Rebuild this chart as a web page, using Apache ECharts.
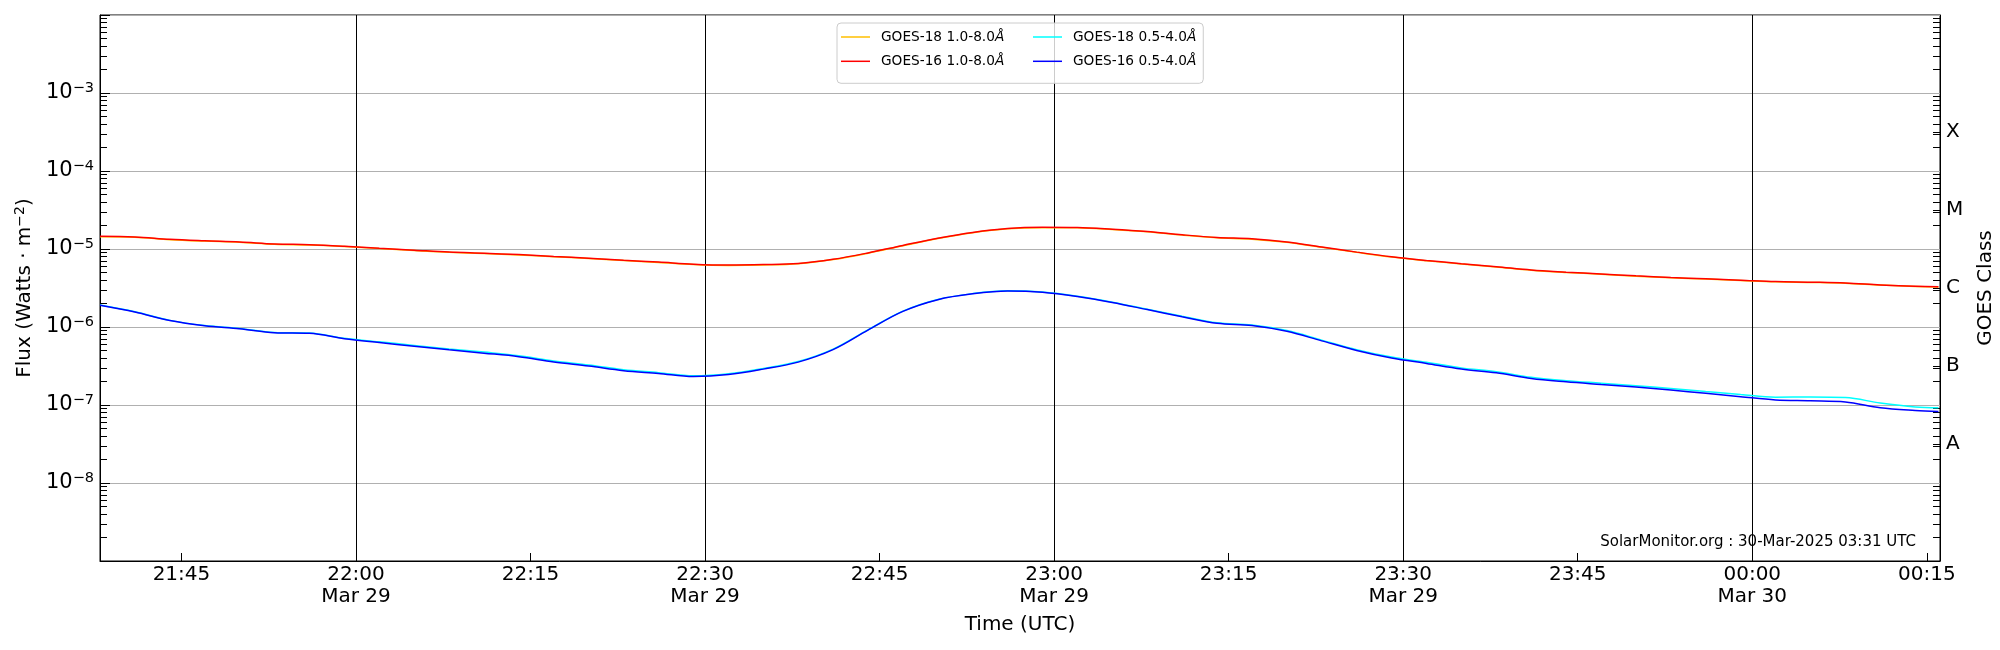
<!DOCTYPE html>
<html><head><meta charset="utf-8">
<script src="https://cdn.jsdelivr.net/npm/echarts@6/dist/echarts.min.js"></script>
<style>html,body{margin:0;padding:0;background:#fff}#c{width:2000px;height:650px}</style>
</head><body><div id="c"></div>
<script>
// ---- data (times in UTC, flux values as log10 W/m^2) ----
const times = ['21:38','21:41','21:44','21:47','21:50','21:53','21:56','21:59',
 '22:02','22:05','22:08','22:11','22:14','22:17','22:20','22:23','22:26','22:29',
 '22:32','22:35','22:38','22:41','22:44','22:47','22:50','22:53','22:56','22:59',
 '23:02','23:05','23:08','23:11','23:14','23:17','23:20','23:23','23:26','23:29',
 '23:32','23:35','23:38','23:41','23:44','23:47','23:50','23:53','23:56','23:59',
 '00:02','00:05','00:08','00:11','00:14','00:16'];
const goes18Long = [-4.842,-4.848,-4.880,-4.899,-4.913,-4.939,-4.949,-4.968,-4.994,-5.019,
 -5.043,-5.059,-5.076,-5.098,-5.122,-5.148,-5.172,-5.199,-5.210,-5.205,-5.189,-5.136,-5.054,
 -4.958,-4.866,-4.791,-4.741,-4.726,-4.729,-4.751,-4.780,-4.822,-4.856,-4.874,-4.914,-4.979,
 -5.043,-5.104,-5.150,-5.192,-5.231,-5.273,-5.301,-5.323,-5.348,-5.369,-5.386,-5.404,-5.421,
 -5.428,-5.438,-5.463,-5.481,-5.486];
const goes18Short = [-5.719,-5.805,-5.915,-5.982,-6.020,-6.070,-6.078,-6.145,-6.190,-6.236,
 -6.281,-6.322,-6.368,-6.436,-6.488,-6.548,-6.585,-6.626,-6.600,-6.532,-6.443,-6.283,-6.036,
 -5.797,-5.647,-5.572,-5.536,-5.552,-5.606,-5.682,-5.772,-5.862,-5.947,-5.975,-6.046,-6.168,
 -6.290,-6.386,-6.453,-6.524,-6.573,-6.645,-6.688,-6.720,-6.752,-6.787,-6.827,-6.866,-6.900,
 -6.898,-6.905,-6.975,-7.025,-7.034];
const goes16Long = [-4.838,-4.845,-4.876,-4.895,-4.910,-4.935,-4.945,-4.965,-4.990,-5.015,
 -5.040,-5.055,-5.072,-5.095,-5.118,-5.145,-5.168,-5.195,-5.206,-5.200,-5.185,-5.132,-5.050,
 -4.954,-4.862,-4.787,-4.737,-4.722,-4.725,-4.747,-4.777,-4.818,-4.852,-4.870,-4.910,-4.975,
 -5.040,-5.100,-5.147,-5.188,-5.227,-5.270,-5.297,-5.320,-5.344,-5.365,-5.383,-5.400,-5.418,
 -5.425,-5.435,-5.460,-5.478,-5.483];
const goes16Short = [-5.722,-5.808,-5.918,-5.985,-6.023,-6.073,-6.081,-6.150,-6.200,-6.247,
 -6.293,-6.335,-6.380,-6.448,-6.500,-6.560,-6.595,-6.635,-6.610,-6.540,-6.450,-6.290,-6.040,
 -5.800,-5.650,-5.575,-5.539,-5.555,-5.610,-5.686,-5.777,-5.868,-5.953,-5.980,-6.055,-6.178,
 -6.300,-6.397,-6.467,-6.538,-6.588,-6.660,-6.703,-6.737,-6.770,-6.808,-6.850,-6.893,-6.935,
 -6.945,-6.960,-7.035,-7.070,-7.083];
const seriesNames = ['GOES-18 1.0-8.0Å','GOES-18 0.5-4.0Å','GOES-16 1.0-8.0Å','GOES-16 0.5-4.0Å'];
const xTickLabels = ['21:45','22:00','22:15','22:30','22:45','23:00','23:15','23:30','23:45','00:00','00:15'];
const xLineLabels = ['22:00','22:30','23:00','23:30','00:00'];
const yTickExponents = [-8,-7,-6,-5,-4,-3];
const classLabels = ['A','B','C','M','X'];
const classExponents = [-7.5,-6.5,-5.5,-4.5,-3.5];
const footnote = 'SolarMonitor.org : 30-Mar-2025 03:31 UTC';

// ---- helpers ----
const FONT = 'DejaVu Sans';
const MONTHS = ['Jan','Feb','Mar','Apr','May','Jun','Jul','Aug','Sep','Oct','Nov','Dec'];
function toTs(hhmm){ const p = hhmm.split(':').map(Number); const day = p[0] < 12 ? 30 : 29; return Date.UTC(2025,2,day,p[0],p[1]); }
const pad = n => (n<10?'0':'')+n;
const xMin = Date.UTC(2025,2,29,21,38,0);
const xMax = Date.UTC(2025,2,30,0,16,8);
const decadeVals = []; for (let e=-9;e<=-2;e++) decadeVals.push(Math.pow(10,e));
const minorVals = []; for (let e=-9;e<=-3;e++) for (let k=2;k<=9;k++) minorVals.push(k*Math.pow(10,e));
const colors = ['#ffbf00','#00ffff','#ff0000','#0000ff'];
const dataSets = [goes18Long, goes18Short, goes16Long, goes16Short];

const series = seriesNames.map((name,i)=>({
  name, type:'line', showSymbol:false, symbol:'none', z: 2+i,
  smooth:0.35,
  data: times.map((t,j)=>[toTs(t), Math.pow(10, dataSets[i][j])]),
  lineStyle:{color:colors[i], width:1.5}, itemStyle:{color:colors[i]},
  emphasis:{disabled:true}, animation:false
}));
series[0].markLine = {
  silent:true, symbol:['none','none'], z:1, animation:false,
  label:{show:false}, lineStyle:{color:'#000', width:1, type:'solid'},
  emphasis:{disabled:true},
  data: xLineLabels.map(s=>({xAxis: toTs(s)}))
};

const legendText = {
  fontFamily: FONT, fontSize: 13.7, color:'#000', lineHeight:14,
  rich: {
    n:{fontFamily:FONT, fontSize:13.7, color:'#000', lineHeight:14, padding:[0,0,0,6]},
    i:{fontFamily:FONT, fontSize:13.7, color:'#000', lineHeight:14, fontStyle:'italic'}
  }
};
const legendFmt = name => '{n|' + name.slice(0,-1) + '}{i|Å}';
const supRich = {
  b:{fontFamily:FONT, fontSize:21, color:'#000', lineHeight:24},
  s:{fontFamily:FONT, fontSize:14.5, color:'#000', lineHeight:15, verticalAlign:'top'}
};
const legendCommon = {
  orient:'vertical', icon:'rect', itemWidth:29, itemHeight:1.5, itemGap:10.3,
  textStyle:legendText, formatter:legendFmt, selectedMode:false
};

const chart = echarts.init(document.getElementById('c'), null, {renderer:'canvas'});
chart.setOption({
  animation:false,
  backgroundColor:'#fff',
  grid:{left:100, right:60, top:15, bottom:89, show:true, borderColor:'#000', borderWidth:1, outerBoundsMode:'none'},
  legend:[Object.assign({}, legendCommon, {
    data:[seriesNames[0], seriesNames[2]], left:837, top:23,
    padding:[7,199,15,4],
    backgroundColor:'rgba(255,255,255,0.8)', borderColor:'#cccccc', borderWidth:1, borderRadius:4
  }), Object.assign({}, legendCommon, {
    data:[seriesNames[1], seriesNames[3]], left:1033, top:30, padding:0, z:6
  })],
  xAxis:{
    type:'value', min:xMin, max:xMax, scale:true,
    axisLine:{show:true, lineStyle:{color:'#000', width:1}},
    axisTick:{show:true, inside:true, length:8, customValues:xTickLabels.map(toTs), lineStyle:{color:'#000', width:1}},
    axisLabel:{
      customValues:xTickLabels.map(toTs), margin:3, fontFamily:FONT, fontSize:20, lineHeight:22, color:'#000', hideOverlap:false,
      formatter:v=>{ const d=new Date(v); let s=pad(d.getUTCHours())+':'+pad(d.getUTCMinutes());
        if (d.getUTCMinutes()%30===0) s += '\n' + MONTHS[d.getUTCMonth()] + ' ' + d.getUTCDate(); return s; }
    },
    splitLine:{show:false},
    name:'Time (UTC)', nameLocation:'middle', nameGap:51.5,
    nameTextStyle:{fontFamily:FONT, fontSize:20, color:'#000', lineHeight:24}
  },
  yAxis:[{
    type:'log', logBase:10, min:1e-9, max:1e-2, interval:1, position:'left',
    axisLine:{show:true, lineStyle:{color:'#000', width:1}},
    axisTick:{show:true, inside:true, length:10, customValues:decadeVals, lineStyle:{color:'#000', width:1}},
    axisLabel:{
      customValues:yTickExponents.map(e=>Math.pow(10,e)), margin:6,
      formatter:v=>'{b|10}{s|−' + (-Math.round(Math.log10(v))) + '}', rich:supRich
    },
    splitLine:{show:true, lineStyle:{color:'#b0b0b0', width:1}},
    name:'{a|Flux (Watts · m}{s|−2}{a|)}', nameLocation:'middle', nameGap:63,
    nameTextStyle:{rich:{
      a:{fontFamily:FONT, fontSize:20, color:'#000', lineHeight:24},
      s:{fontFamily:FONT, fontSize:14, color:'#000', lineHeight:14, verticalAlign:'top'}
    }}
  },{
    type:'log', logBase:10, min:1e-9, max:1e-2, interval:1, position:'left',
    axisLine:{show:false}, axisLabel:{show:false}, splitLine:{show:false},
    axisTick:{show:true, inside:true, length:7, customValues:minorVals, lineStyle:{color:'#000', width:1}}
  },{
    type:'log', logBase:10, min:1e-9, max:1e-2, interval:1, position:'right',
    axisLine:{show:true, lineStyle:{color:'#000', width:1}},
    axisTick:{show:true, inside:true, length:7, customValues:classExponents.map(e=>Math.pow(10,e)), lineStyle:{color:'#000', width:1}},
    axisLabel:{
      customValues:classExponents.map(e=>Math.pow(10,e)), margin:6, fontFamily:FONT, fontSize:20, color:'#000',
      formatter:v=>classLabels[Math.round(Math.log10(v)+7.5)]
    },
    splitLine:{show:false},
    name:'GOES Class', nameLocation:'middle', nameGap:24, nameRotate:90,
    nameTextStyle:{fontFamily:FONT, fontSize:20, color:'#000', lineHeight:24}
  },{
    type:'log', logBase:10, min:1e-9, max:1e-2, interval:1, position:'right',
    axisLine:{show:false}, axisLabel:{show:false}, splitLine:{show:false},
    axisTick:{show:true, inside:true, length:7, customValues:minorVals, lineStyle:{color:'#000', width:1}}
  }],
  graphic:[{
    type:'text', x:1916, y:542.5, z:10,
    style:{text:footnote, fontFamily:FONT, fontSize:15, fill:'#000', align:'right', verticalAlign:'middle'}
  }],
  series
});
</script></body></html>
